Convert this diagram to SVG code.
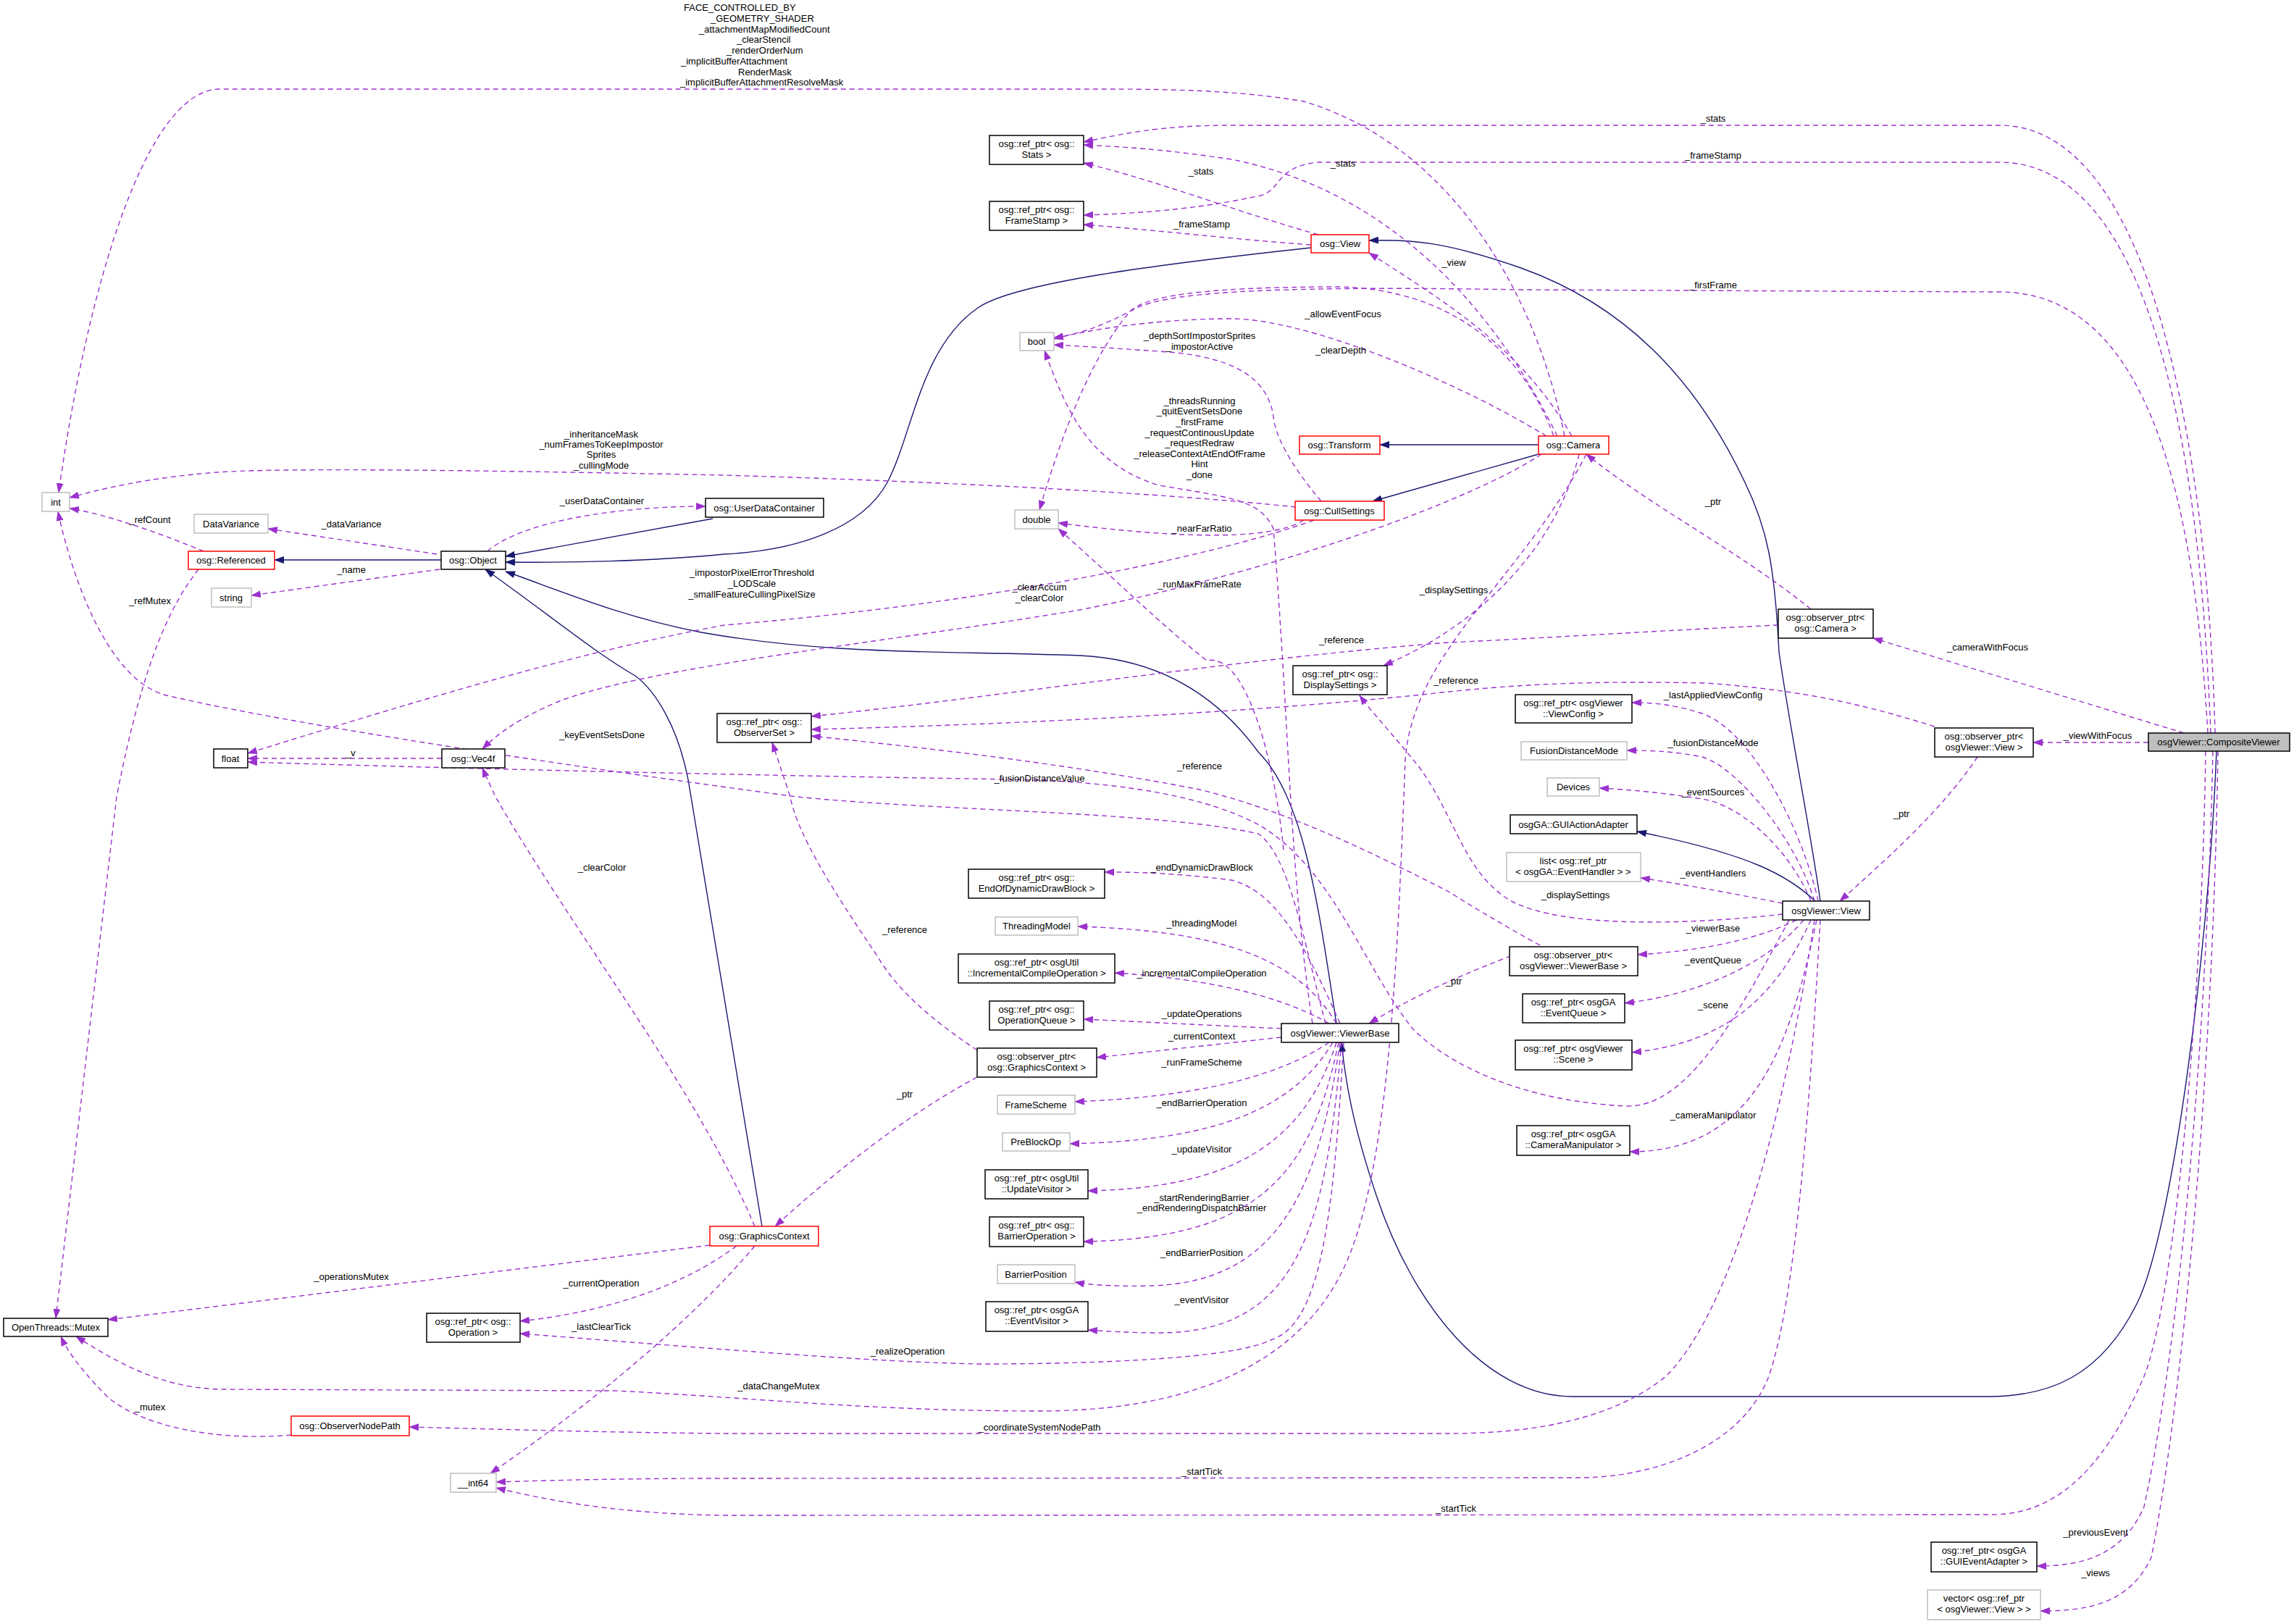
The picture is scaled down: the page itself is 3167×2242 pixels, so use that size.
<svg xmlns="http://www.w3.org/2000/svg" width="3167" height="2242" viewBox="0 0 3167 2242">
<style>
text{font-family:"Liberation Sans",Arial,sans-serif;font-size:13px;fill:#000}
.n text{text-anchor:middle}
.l{text-anchor:middle}
.b rect{fill:#fff;stroke:#000;stroke-width:1.5}
.g rect{fill:#fff;stroke:#bfbfbf;stroke-width:1.5}
.r rect{fill:#fff;stroke:#ff0000;stroke-width:1.5}
.d{fill:none;stroke:#9a32cd;stroke-width:1.4;stroke-dasharray:7,5;marker-end:url(#pa)}
.i{fill:none;stroke:#191970;stroke-width:1.4;marker-end:url(#ia)}
</style>
<defs>
<marker id="pa" markerWidth="14" markerHeight="10" refX="13" refY="5" orient="auto" markerUnits="userSpaceOnUse"><path d="M0,0L14,5L0,10z" fill="#9a32cd"/></marker>
<marker id="ia" markerWidth="14" markerHeight="10" refX="13" refY="5" orient="auto" markerUnits="userSpaceOnUse"><path d="M0,0L14,5L0,10z" fill="#191970"/></marker>
</defs>
<rect width="3167" height="2242" fill="#fff"/>
<g id="edges">
<!-- inheritance -->
<path class="i" d="M609,773L379,773"/>
<path class="i" d="M984,716L698,768"/>
<path class="i" d="M1810,342C1600,365 1400,390 1350,425C1270,480 1260,600 1225,666C1190,730 1100,760 1000,765C900,775 780,777 698,776"/>
<path class="i" d="M1845,1413C1820,1250 1800,1100 1737,1038C1680,960 1600,910 1491,905C1300,898 1150,905 968,873C850,850 760,810 698,789"/>
<path class="i" d="M1052,1693L954,1100C940,1000 900,950 877,933C820,900 760,850 670,786"/>
<path class="i" d="M2124,614L1905,614"/>
<path class="i" d="M2124,627L1895,692"/>
<path class="i" d="M2513,1244C2500,1150 2470,1000 2456,900C2450,780 2440,730 2409,666C2340,520 2240,420 2100,370C2000,335 1950,330 1890,332"/>
<path class="i" d="M2506,1244C2470,1210 2420,1180 2260,1148"/>
<path class="i" d="M3060,1037C3050,1300 3000,1700 2950,1800C2900,1900 2830,1928 2744,1928L2171,1928C2050,1928 1950,1800 1900,1650C1870,1560 1858,1500 1852,1439"/>
<!-- CompositeViewer -->
<path class="d" d="M3058,1012C3050,700 2990,173 2760,173L1700,173C1600,173 1550,185 1496,196"/>
<path class="d" d="M3052,1012C3040,700 2990,224 2760,224L1820,224C1760,230 1770,262 1740,270C1650,290 1560,295 1496,297"/>
<path class="d" d="M3048,1012C3030,700 2970,403 2760,403L2100,400C1800,395 1620,400 1570,425C1530,445 1500,460 1455,466"/>
<path class="d" d="M3015,1012L2586,881"/>
<path class="d" d="M2966,1025L2807,1025"/>
<path class="d" d="M3045,1037C3040,1400 3000,1800 2960,1900C2900,2040 2830,2091 2750,2091L1000,2092C850,2090 750,2070 685,2054"/>
<path class="d" d="M3055,1037C3045,1500 3000,1900 2960,2080C2930,2150 2870,2162 2812,2162"/>
<path class="d" d="M3062,1037C3055,1500 3010,1950 2970,2150C2940,2215 2880,2224 2817,2224"/>
<!-- observer_ptrs -->
<path class="d" d="M2730,1045C2680,1120 2600,1190 2540,1244"/>
<path class="d" d="M2500,841C2400,760 2280,700 2190,627"/>
<path class="d" d="M2671,1003C2580,975 2500,954 2357,943C2200,940 2100,943 1954,960C1700,985 1400,1000 1120,1007"/>
<path class="d" d="M2455,863C2300,870 2150,880 2000,887C1700,910 1400,960 1120,989"/>
<path class="d" d="M2126,1305C2080,1280 2030,1250 2000,1231C1900,1180 1780,1120 1656,1090C1450,1050 1250,1030 1120,1016"/>
<path class="d" d="M1349,1450C1290,1410 1240,1370 1210,1318C1150,1230 1100,1150 1091,1100L1066,1025"/>
<path class="d" d="M1349,1487C1250,1540 1150,1620 1070,1693"/>
<path class="d" d="M2120,1307C2030,1340 1960,1370 1890,1413"/>
<!-- osgViewer::View -->
<path class="d" d="M2510,1244C2490,1150 2420,1010 2350,985C2310,972 2280,970 2253,970"/>
<path class="d" d="M2505,1244C2480,1160 2400,1060 2350,1045C2310,1037 2280,1036 2246,1036"/>
<path class="d" d="M2500,1244C2470,1170 2400,1110 2350,1103C2300,1095 2250,1090 2208,1088"/>
<path class="d" d="M2461,1247C2400,1235 2320,1220 2265,1212"/>
<path class="d" d="M2461,1262C2350,1275 2150,1285 2080,1240C2020,1200 2010,1130 1960,1060C1920,1010 1895,985 1877,960"/>
<path class="d" d="M2480,1270C2420,1300 2340,1313 2261,1318"/>
<path class="d" d="M2490,1270C2440,1330 2350,1372 2243,1385"/>
<path class="d" d="M2500,1270C2450,1380 2380,1440 2253,1453"/>
<path class="d" d="M2508,1270C2470,1450 2420,1590 2250,1590"/>
<path class="d" d="M2470,1270C2400,1400 2330,1530 2245,1527C2100,1520 2000,1470 1950,1420C1880,1330 1840,1200 1740,1140C1650,1090 1500,1078 1400,1076C1000,1070 600,1060 342,1052"/>
<path class="d" d="M2513,1270C2500,1500 2480,1800 2440,1905C2400,2000 2280,2040 2180,2040L1000,2041C850,2041 750,2044 685,2046"/>
<path class="d" d="M2505,1270C2470,1500 2400,1800 2300,1900C2220,1965 2100,1979 2000,1979L1000,1979C800,1977 650,1972 565,1970"/>
<!-- Camera -->
<path class="d" d="M2160,602C2120,400 2000,200 1800,140C1700,123 1600,123 1500,123L300,123C200,130 120,400 81,680"/>
<path class="d" d="M2150,602C2050,400 1900,260 1700,220C1600,205 1550,203 1496,200"/>
<path class="d" d="M2170,602C2100,480 2000,420 1890,349"/>
<path class="d" d="M2135,602C2000,520 1800,440 1700,440C1600,440 1500,455 1455,468"/>
<path class="d" d="M2145,602C2100,480 2000,400 1850,396C1650,396 1580,410 1560,430C1500,500 1460,620 1435,704"/>
<path class="d" d="M2128,627C2050,680 1800,780 1491,842C1200,890 900,920 772,968C720,990 690,1010 666,1034"/>
<path class="d" d="M2180,627C2150,750 2050,860 1910,919"/>
<path class="d" d="M2190,627C2100,800 1950,900 1940,1050C1930,1300 1920,1600 1860,1740C1800,1880 1650,1948 1435,1948C1200,1948 1050,1930 850,1920L302,1918C220,1915 160,1880 105,1845"/>
<!-- CullSettings -->
<path class="d" d="M1789,700C1600,680 1300,665 1000,656C700,650 400,645 300,652C200,660 140,675 96,687"/>
<path class="d" d="M1814,718C1700,760 1400,830 1000,863C800,900 600,960 342,1040"/>
<path class="d" d="M1800,718C1750,750 1600,740 1461,722"/>
<path class="d" d="M1824,692C1780,640 1760,600 1758,575C1750,520 1700,491 1600,485C1530,480 1490,478 1455,476"/>
<!-- ViewerBase -->
<path class="d" d="M1850,1413C1800,1300 1760,1230 1700,1215C1620,1205 1570,1204 1525,1204"/>
<path class="d" d="M1845,1413C1790,1320 1680,1285 1488,1279"/>
<path class="d" d="M1835,1413C1760,1370 1650,1350 1539,1343"/>
<path class="d" d="M1769,1420L1496,1407"/>
<path class="d" d="M1769,1432L1514,1460"/>
<path class="d" d="M1835,1439C1760,1490 1640,1515 1484,1521"/>
<path class="d" d="M1840,1439C1780,1540 1660,1575 1477,1579"/>
<path class="d" d="M1845,1439C1800,1580 1700,1640 1502,1644"/>
<path class="d" d="M1848,1439C1810,1620 1740,1710 1496,1714"/>
<path class="d" d="M1850,1439C1820,1650 1760,1770 1590,1775C1550,1776 1510,1775 1484,1770"/>
<path class="d" d="M1852,1439C1830,1700 1790,1840 1600,1840C1560,1840 1530,1838 1502,1836"/>
<path class="d" d="M1855,1439C1840,1700 1820,1830 1754,1850C1700,1877 1500,1883 1351,1883C1200,1880 1000,1863 718,1841"/>
<path class="d" d="M1772,1173C1760,1050 1720,900 1666,912C1600,860 1540,800 1461,730"/>
<path class="d" d="M1812,1413C1780,1200 1780,1000 1758,730C1740,690 1700,687 1600,670C1500,640 1470,560 1442,484"/>
<path class="d" d="M1830,1413C1800,1300 1780,1180 1737,1151C1600,1120 1300,1120 1100,1100C800,1060 400,1000 230,960C150,940 100,800 80,706"/>
<!-- osg::View -->
<path class="d" d="M1820,324C1700,290 1600,250 1496,225"/>
<path class="d" d="M1810,338C1700,330 1600,318 1496,310"/>
<!-- GraphicsContext -->
<path class="d" d="M1042,1693C960,1500 800,1300 684,1100C675,1080 670,1070 666,1060"/>
<path class="d" d="M980,1719L149,1822"/>
<path class="d" d="M1017,1720C950,1770 850,1810 718,1824"/>
<path class="d" d="M1042,1720C950,1830 800,1950 677,2034"/>
<!-- misc -->
<path class="d" d="M402,1981C300,1990 200,1970 150,1930C120,1900 95,1870 84,1845"/>
<path class="d" d="M274,786C240,830 200,900 161,1100L77,1820"/>
<path class="d" d="M281,761C230,740 150,710 96,702"/>
<path class="d" d="M603,765L370,730"/>
<path class="d" d="M607,786L347,822"/>
<path class="d" d="M673,761C720,720 850,699 974,699"/>
<path class="d" d="M610,1047L342,1047"/>
</g>
<g id="labels">
<text x="944" y="15">FACE_CONTROLLED_BY</text>
<text x="981" y="30">_GEOMETRY_SHADER</text>
<text x="965" y="45">_attachmentMapModifiedCount</text>
<text x="1017" y="59">_clearStencil</text>
<text x="1003" y="74">_renderOrderNum</text>
<text x="940" y="89">_implicitBufferAttachment</text>
<text x="1019" y="104">RenderMask</text>
<text x="939" y="118">_implicitBufferAttachmentResolveMask</text>
<text class="l" x="2365" y="168">_stats</text>
<text class="l" x="2365" y="219">_frameStamp</text>
<text class="l" x="2365" y="398">_firstFrame</text>
<text class="l" x="1854" y="230">_stats</text>
<text class="l" x="1658" y="241">_stats</text>
<text class="l" x="1659" y="314">_frameStamp</text>
<text class="l" x="2007" y="367">_view</text>
<text class="l" x="1854" y="438">_allowEventFocus</text>
<text class="l" x="1656" y="468">_depthSortImpostorSprites</text>
<text class="l" x="1656" y="483">_impostorActive</text>
<text class="l" x="1851" y="488">_clearDepth</text>
<text class="l" x="1656" y="558">_threadsRunning</text>
<text class="l" x="1656" y="572">_quitEventSetsDone</text>
<text class="l" x="1656" y="587">_firstFrame</text>
<text class="l" x="1656" y="602">_requestContinousUpdate</text>
<text class="l" x="1656" y="616">_requestRedraw</text>
<text class="l" x="1656" y="631">_releaseContextAtEndOfFrame</text>
<text class="l" x="1656" y="645">Hint</text>
<text class="l" x="1656" y="660">_done</text>
<text class="l" x="830" y="604">_inheritanceMask</text>
<text class="l" x="830" y="618">_numFramesToKeepImpostor</text>
<text class="l" x="830" y="632">Sprites</text>
<text class="l" x="830" y="647">_cullingMode</text>
<text class="l" x="831" y="696">_userDataContainer</text>
<text class="l" x="207" y="722">_refCount</text>
<text class="l" x="485" y="728">_dataVariance</text>
<text class="l" x="485" y="791">_name</text>
<text class="l" x="207" y="834">_refMutex</text>
<text class="l" x="1659" y="734">_nearFarRatio</text>
<text class="l" x="2365" y="697">_ptr</text>
<text class="l" x="1038" y="795">_impostorPixelErrorThreshold</text>
<text class="l" x="1038" y="810">_LODScale</text>
<text class="l" x="1038" y="825">_smallFeatureCullingPixelSize</text>
<text class="l" x="1435" y="815">_clearAccum</text>
<text class="l" x="1435" y="830">_clearColor</text>
<text class="l" x="1656" y="811">_runMaxFrameRate</text>
<text class="l" x="2007" y="819">_displaySettings</text>
<text class="l" x="1852" y="888">_reference</text>
<text class="l" x="2744" y="898">_cameraWithFocus</text>
<text class="l" x="2010" y="944">_reference</text>
<text class="l" x="2365" y="964">_lastAppliedViewConfig</text>
<text class="l" x="2896" y="1020">_viewWithFocus</text>
<text class="l" x="831" y="1019">_keyEventSetsDone</text>
<text class="l" x="2365" y="1030">_fusionDistanceMode</text>
<text class="l" x="484" y="1044">_v</text>
<text class="l" x="1656" y="1062">_reference</text>
<text class="l" x="1435" y="1079">_fusionDistanceValue</text>
<text class="l" x="2365" y="1098">_eventSources</text>
<text class="l" x="2625" y="1128">_ptr</text>
<text class="l" x="1659" y="1202">_endDynamicDrawBlock</text>
<text class="l" x="831" y="1202">_clearColor</text>
<text class="l" x="2365" y="1210">_eventHandlers</text>
<text class="l" x="2175" y="1240">_displaySettings</text>
<text class="l" x="1659" y="1279">_threadingModel</text>
<text class="l" x="2365" y="1286">_viewerBase</text>
<text class="l" x="1249" y="1288">_reference</text>
<text class="l" x="2365" y="1330">_eventQueue</text>
<text class="l" x="1659" y="1348">_incrementalCompileOperation</text>
<text class="l" x="2007" y="1359">_ptr</text>
<text class="l" x="2365" y="1392">_scene</text>
<text class="l" x="1659" y="1404">_updateOperations</text>
<text class="l" x="1659" y="1435">_currentContext</text>
<text class="l" x="1659" y="1471">_runFrameScheme</text>
<text class="l" x="1249" y="1515">_ptr</text>
<text class="l" x="1659" y="1527">_endBarrierOperation</text>
<text class="l" x="2365" y="1544">_cameraManipulator</text>
<text class="l" x="1659" y="1591">_updateVisitor</text>
<text class="l" x="1659" y="1658">_startRenderingBarrier</text>
<text class="l" x="1659" y="1672">_endRenderingDispatchBarrier</text>
<text class="l" x="1659" y="1734">_endBarrierPosition</text>
<text class="l" x="485" y="1767">_operationsMutex</text>
<text class="l" x="830" y="1776">_currentOperation</text>
<text class="l" x="1659" y="1799">_eventVisitor</text>
<text class="l" x="830" y="1836">_lastClearTick</text>
<text class="l" x="1253" y="1870">_realizeOperation</text>
<text class="l" x="1075" y="1918">_dataChangeMutex</text>
<text class="l" x="207" y="1947">_mutex</text>
<text class="l" x="1435" y="1975">_coordinateSystemNodePath</text>
<text class="l" x="1659" y="2036">_startTick</text>
<text class="l" x="2010" y="2087">_startTick</text>
<text class="l" x="2893" y="2120">_previousEvent</text>
<text class="l" x="2893" y="2176">_views</text>
</g>
<g id="n_cv" class="n"><rect x="2966" y="1012" width="195" height="25" fill="#bfbfbf" stroke="#000" stroke-width="1.5"/><text x="3063" y="1029">osgViewer::CompositeViewer</text></g>
<g id="n_int" class="n g"><rect x="58" y="680" width="38" height="26"/><text x="77" y="698">int</text></g>
<g id="n_dv" class="n g"><rect x="268" y="710" width="102" height="26"/><text x="319" y="728">DataVariance</text></g>
<g id="n_ref" class="n r"><rect x="260" y="761" width="119" height="25"/><text x="319" y="778">osg::Referenced</text></g>
<g id="n_string" class="n g"><rect x="292" y="812" width="55" height="26"/><text x="319" y="830">string</text></g>
<g id="n_object" class="n b"><rect x="609" y="761" width="89" height="25"/><text x="653" y="778">osg::Object</text></g>
<g id="n_udc" class="n b"><rect x="974" y="688" width="163" height="26"/><text x="1055" y="706">osg::UserDataContainer</text></g>
<g id="n_float" class="n b"><rect x="295" y="1034" width="47" height="26"/><text x="318" y="1052">float</text></g>
<g id="n_vec4f" class="n b"><rect x="610" y="1034" width="87" height="26"/><text x="653" y="1052">osg::Vec4f</text></g>
<g id="n_obset" class="n b"><rect x="990" y="985" width="130" height="40"/><text x="1055" y="1001">osg::ref_ptr&lt; osg::</text><text x="1055" y="1016">ObserverSet &gt;</text></g>
<g id="n_stats" class="n b"><rect x="1366" y="187" width="130" height="40"/><text x="1431" y="203">osg::ref_ptr&lt; osg::</text><text x="1431" y="218">Stats &gt;</text></g>
<g id="n_fs" class="n b"><rect x="1366" y="278" width="130" height="40"/><text x="1431" y="294">osg::ref_ptr&lt; osg::</text><text x="1431" y="309">FrameStamp &gt;</text></g>
<g id="n_osgview" class="n r"><rect x="1810" y="324" width="80" height="25"/><text x="1850" y="341">osg::View</text></g>
<g id="n_bool" class="n g"><rect x="1408" y="459" width="47" height="25"/><text x="1431" y="476">bool</text></g>
<g id="n_transform" class="n r"><rect x="1794" y="602" width="111" height="25"/><text x="1849" y="619">osg::Transform</text></g>
<g id="n_cull" class="n r"><rect x="1788" y="692" width="123" height="26"/><text x="1849" y="710">osg::CullSettings</text></g>
<g id="n_double" class="n g"><rect x="1401" y="704" width="60" height="26"/><text x="1431" y="722">double</text></g>
<g id="n_ds" class="n b"><rect x="1785" y="919" width="130" height="40"/><text x="1850" y="935">osg::ref_ptr&lt; osg::</text><text x="1850" y="950">DisplaySettings &gt;</text></g>
<g id="n_camera" class="n r"><rect x="2124" y="602" width="97" height="25"/><text x="2172" y="619">osg::Camera</text></g>
<g id="n_obcam" class="n b"><rect x="2455" y="841" width="131" height="40"/><text x="2520" y="857">osg::observer_ptr&lt;</text><text x="2520" y="872">osg::Camera &gt;</text></g>
<g id="n_obview" class="n b"><rect x="2671" y="1005" width="136" height="40"/><text x="2739" y="1021">osg::observer_ptr&lt;</text><text x="2739" y="1036">osgViewer::View &gt;</text></g>
<g id="n_vc" class="n b"><rect x="2092" y="959" width="161" height="39"/><text x="2172" y="975">osg::ref_ptr&lt; osgViewer</text><text x="2172" y="990">::ViewConfig &gt;</text></g>
<g id="n_fdm" class="n g"><rect x="2100" y="1024" width="146" height="25"/><text x="2173" y="1041">FusionDistanceMode</text></g>
<g id="n_dev" class="n g"><rect x="2136" y="1074" width="72" height="25"/><text x="2172" y="1091">Devices</text></g>
<g id="n_gc" class="n r"><rect x="980" y="1693" width="150" height="27"/><text x="1055" y="1711">osg::GraphicsContext</text></g>
<g id="n_mutex" class="n b"><rect x="5" y="1820" width="144" height="25"/><text x="77" y="1837">OpenThreads::Mutex</text></g>
<g id="n_op" class="n b"><rect x="589" y="1813" width="129" height="40"/><text x="653" y="1829">osg::ref_ptr&lt; osg::</text><text x="653" y="1844">Operation &gt;</text></g>
<g id="n_onp" class="n r"><rect x="402" y="1955" width="163" height="27"/><text x="483" y="1973">osg::ObserverNodePath</text></g>
<g id="n_int64" class="n g"><rect x="622" y="2034" width="63" height="26"/><text x="653" y="2052">__int64</text></g>
<g id="n_eoddb" class="n b"><rect x="1337" y="1200" width="188" height="40"/><text x="1431" y="1216">osg::ref_ptr&lt; osg::</text><text x="1431" y="1231">EndOfDynamicDrawBlock &gt;</text></g>
<g id="n_tm" class="n g"><rect x="1374" y="1266" width="114" height="25"/><text x="1431" y="1283">ThreadingModel</text></g>
<g id="n_ico" class="n b"><rect x="1323" y="1317" width="216" height="40"/><text x="1431" y="1333">osg::ref_ptr&lt; osgUtil</text><text x="1431" y="1348">::IncrementalCompileOperation &gt;</text></g>
<g id="n_oq" class="n b"><rect x="1366" y="1382" width="130" height="40"/><text x="1431" y="1398">osg::ref_ptr&lt; osg::</text><text x="1431" y="1413">OperationQueue &gt;</text></g>
<g id="n_obgc" class="n b"><rect x="1349" y="1447" width="165" height="40"/><text x="1431" y="1463">osg::observer_ptr&lt;</text><text x="1431" y="1478">osg::GraphicsContext &gt;</text></g>
<g id="n_fsch" class="n g"><rect x="1377" y="1512" width="107" height="26"/><text x="1430" y="1530">FrameScheme</text></g>
<g id="n_pbo" class="n g"><rect x="1384" y="1564" width="93" height="25"/><text x="1430" y="1581">PreBlockOp</text></g>
<g id="n_uv" class="n b"><rect x="1360" y="1615" width="142" height="40"/><text x="1431" y="1631">osg::ref_ptr&lt; osgUtil</text><text x="1431" y="1646">::UpdateVisitor &gt;</text></g>
<g id="n_bo" class="n b"><rect x="1366" y="1680" width="130" height="41"/><text x="1431" y="1696">osg::ref_ptr&lt; osg::</text><text x="1431" y="1711">BarrierOperation &gt;</text></g>
<g id="n_bp" class="n g"><rect x="1377" y="1746" width="107" height="26"/><text x="1430" y="1764">BarrierPosition</text></g>
<g id="n_ev" class="n b"><rect x="1361" y="1797" width="141" height="41"/><text x="1431" y="1813">osg::ref_ptr&lt; osgGA</text><text x="1431" y="1828">::EventVisitor &gt;</text></g>
<g id="n_vb" class="n b"><rect x="1769" y="1413" width="162" height="26"/><text x="1850" y="1431">osgViewer::ViewerBase</text></g>
<g id="n_gaa" class="n b"><rect x="2085" y="1125" width="175" height="26"/><text x="2172" y="1143">osgGA::GUIActionAdapter</text></g>
<g id="n_list" class="n g"><rect x="2080" y="1177" width="185" height="40"/><text x="2172" y="1193">list&lt; osg::ref_ptr</text><text x="2172" y="1208">&lt; osgGA::EventHandler &gt; &gt;</text></g>
<g id="n_view" class="n b"><rect x="2461" y="1244" width="120" height="26"/><text x="2521" y="1262">osgViewer::View</text></g>
<g id="n_obvb" class="n b"><rect x="2084" y="1307" width="177" height="40"/><text x="2172" y="1323">osg::observer_ptr&lt;</text><text x="2172" y="1338">osgViewer::ViewerBase &gt;</text></g>
<g id="n_eq" class="n b"><rect x="2102" y="1372" width="141" height="40"/><text x="2172" y="1388">osg::ref_ptr&lt; osgGA</text><text x="2172" y="1403">::EventQueue &gt;</text></g>
<g id="n_scene" class="n b"><rect x="2092" y="1436" width="161" height="41"/><text x="2172" y="1452">osg::ref_ptr&lt; osgViewer</text><text x="2172" y="1467">::Scene &gt;</text></g>
<g id="n_cm" class="n b"><rect x="2094" y="1554" width="156" height="41"/><text x="2172" y="1570">osg::ref_ptr&lt; osgGA</text><text x="2172" y="1585">::CameraManipulator &gt;</text></g>
<g id="n_gea" class="n b"><rect x="2666" y="2129" width="146" height="41"/><text x="2739" y="2145">osg::ref_ptr&lt; osgGA</text><text x="2739" y="2160">::GUIEventAdapter &gt;</text></g>
<g id="n_vec" class="n g"><rect x="2661" y="2195" width="156" height="41"/><text x="2739" y="2211">vector&lt; osg::ref_ptr</text><text x="2739" y="2226">&lt; osgViewer::View &gt; &gt;</text></g>
</svg>
